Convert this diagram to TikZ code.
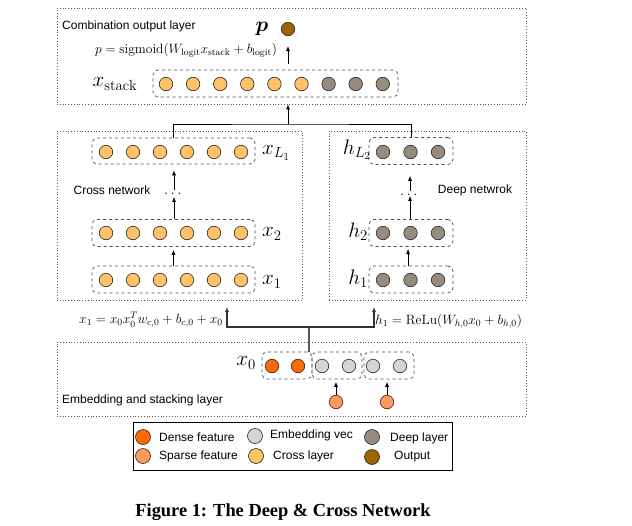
\RequirePackage{fix-cm}
\documentclass[tikz,border=0pt]{standalone}
\usepackage{amsmath}
\usepackage{fontspec}
\usepackage{bm}
\setsansfont{Liberation Sans}
\newfontfamily\capfont{Liberation Serif}
\usetikzlibrary{arrows.meta}
\definecolor{crossc}{HTML}{FFC266}
\definecolor{densec}{HTML}{FF6A00}
\definecolor{sparsec}{HTML}{FF9A5C}
\definecolor{embc}{HTML}{D4D4D4}
\definecolor{deepc}{HTML}{978B7F}
\definecolor{outc}{HTML}{9A6600}
\tikzset{
  neuron/.style={circle,draw=black!85,line width=0.6pt,minimum size=13.5pt,inner sep=0pt},
  crossn/.style={neuron,fill=crossc},
  deepn/.style={neuron,fill=deepc},
  densen/.style={neuron,fill=densec},
  sparsen/.style={neuron,fill=sparsec},
  embn/.style={neuron,fill=embc},
  outn/.style={neuron,fill=outc},
  grp/.style={draw=black!70,dashed,rounded corners=5pt,line width=0.7pt,inner sep=0pt},
  layerbox/.style={draw=black!65,dotted,line width=0.8pt,inner sep=0pt},
  arr/.style={-{Latex[length=5pt,width=4pt]},line width=0.7pt},
  conn/.style={line width=0.8pt},
  conng/.style={draw=black!65,line width=1.1pt},
  arrg/.style={draw=black!80,-{Latex[length=5pt,width=4pt]},line width=1.1pt},
  sans/.style={font=\fontsize{12}{12}\selectfont\sffamily,inner sep=0pt},
  lbl/.style={font=\fontsize{21}{21}\selectfont,inner sep=0pt},
  fml/.style={font=\fontsize{13.5}{13.5}\selectfont,inner sep=0pt},
}
\begin{document}
\begin{tikzpicture}[x=1pt,y=-1pt]
\useasboundingbox (0,0) rectangle (632,525);
% layer boxes
\node[layerbox,minimum width=469pt,minimum height=96pt] (outbox) at (291.5,56) {};
\node[layerbox,minimum width=245pt,minimum height=169pt] (crossbox) at (179.5,215.5) {};
\node[layerbox,minimum width=197pt,minimum height=169pt] (deepbox) at (427.5,215.5) {};
\node[layerbox,minimum width=469pt,minimum height=74pt] (embbox) at (291.5,379) {};
% texts of layers
\node[sans,anchor=west] (t1) at (62,26) {Combination output layer};
\node[sans] (t2) at (112,190) {Cross network};
\node[sans] (t3) at (475,190) {Deep netwrok};
\node[sans,anchor=west] (t4) at (62,400) {Embedding and stacking layer};
% output
\node[outn] (out) at (288,29) {};
\node[font=\fontsize{21}{21}\selectfont,inner sep=0pt] (plbl) at (262,29) {$\bm{p}$};
\node[fml] (pf) at (186,50) {$p=\mathrm{sigmoid}(W_{\mathrm{logit}}x_{\mathrm{stack}}+b_{\mathrm{logit}})$};
% x_stack
\node[grp,minimum width=245pt,minimum height=27pt] (xs) at (275.5,83.5) {};
\foreach \i in {0,...,5} \node[crossn] (s\i) at (166+27.1*\i,84) {};
\foreach \i in {6,7,8} \node[deepn] (s\i) at (166+27.1*\i,84) {};
\node[lbl] (xslbl) at (115,84) {$x_{\mathrm{stack}}$};
% cross network
\node[grp,minimum width=163pt,minimum height=26pt] (xL) at (173.5,151) {};
\node[grp,minimum width=163pt,minimum height=27pt] (x2) at (173.5,233) {};
\node[grp,minimum width=163pt,minimum height=27pt] (x1) at (173.5,279.5) {};
\foreach \r/\y in {xL/152,x2/233,x1/280}
  \foreach \i in {0,...,5} \node[crossn] (\r c\i) at (106+27*\i,\y) {};
\node[lbl,anchor=west] (xLlbl) at (262,153) {$x_{L_1}$};
\node[lbl,anchor=west] (x2lbl) at (262,234) {$x_2$};
\node[lbl,anchor=west] (x1lbl) at (262,282) {$x_1$};
\node[inner sep=0pt,font=\fontsize{15}{15}\selectfont] (cdots) at (174,194) {$\dots$};
% deep network
\node[grp,minimum width=84pt,minimum height=27pt] (hL) at (411,151) {};
\node[grp,minimum width=84pt,minimum height=27pt] (h2) at (411,233) {};
\node[grp,minimum width=84pt,minimum height=27pt] (h1) at (411,279.5) {};
\foreach \r/\y in {hL/152,h2/233,h1/280}
  \foreach \i in {0,1,2} \node[deepn] (\r c\i) at (383+27.5*\i,\y) {};
\node[lbl,anchor=east] (hLlbl) at (371,150) {$h_{L_2}$};
\node[lbl,anchor=east] (h2lbl) at (368,232) {$h_2$};
\node[lbl,anchor=east] (h1lbl) at (368,279) {$h_1$};
\node[inner sep=0pt,font=\fontsize{15}{15}\selectfont] (hdots) at (410,195) {$\dots$};
% embedding
\node[grp,minimum width=50pt,minimum height=27pt] (dbox) at (287,365.5) {};
\node[grp,minimum width=50pt,minimum height=27pt] (e1box) at (337,365.5) {};
\node[grp,minimum width=50pt,minimum height=27pt] (e2box) at (389,365.5) {};
\node[densen] (d0) at (272,366) {};
\node[densen] (d1) at (298,366) {};
\node[embn] (e0) at (322,366) {};
\node[embn] (e1) at (349,366) {};
\node[embn] (e2) at (373,366) {};
\node[embn] (e3) at (400,366) {};
\node[sparsen] (sp1) at (336,402) {};
\node[sparsen] (sp2) at (387,402) {};
\node[lbl,anchor=east] (x0lbl) at (256,363) {$x_0$};
% formulas
\node[fml,anchor=east] (f1) at (223,320) {$x_1=x_0x_0^Tw_{c,0}+b_{c,0}+x_0$};
\node[fml,anchor=west] (f2) at (375,321) {$h_1=\mathrm{ReLu}(W_{h,0}x_0+b_{h,0})$};
% connectors top
\coordinate (jt) at (288,124);
\draw[conn] (xL.north) |- (jt) -| (hL.north);
\draw[arr] (jt) -- (jt |- outbox.south);
\draw[arr,shorten <=6pt,shorten >=10pt] (xs.north -| out) -- (out);
% cross arrows
\draw[arr,shorten >=3pt] (x1.north) -- (x1.north |- x2.south);
\draw[arr,shorten <=0pt,shorten >=2pt] (x2.north -| cdots) -- (cdots.south);
\draw[arr,shorten <=3pt,shorten >=6pt] (cdots.north) -- (cdots |- xL.south);
% deep arrows
\draw[arr,shorten >=3pt] (h1.north -| 408,0) -- (408,246);
\draw[arr] (h2.north -| hdots) -- (hdots.south);
\draw[arr,shorten <=3pt,shorten >=11pt] (hdots.north) -- (hdots |- hL.south);
% bottom connectors
\coordinate (jb) at (309,327);
\coordinate (ca) at (227,307);
\coordinate (da) at (374,307);
\draw[conng] (jb) -- (jb |- dbox.north);
\draw[arrg] (jb) -| (ca);
\draw[arrg] (jb) -| (da);
\draw[arr,shorten >=2.5pt] (sp1) -- (sp1 |- e1box.south);
\draw[arr,shorten >=2.5pt] (sp2) -- (sp2 |- e2box.south);
% legend
\node[draw=black,line width=0.9pt,minimum width=319pt,minimum height=48pt,inner sep=0pt] (legend) at (292.5,446) {};
\node[densen,minimum size=15pt] (l1) at (143,437) {};
\node[sparsen,minimum size=15pt] (l2) at (143,456) {};
\node[embn,minimum size=15pt] (l3) at (255,436) {};
\node[crossn,minimum size=15pt] (l4) at (256,456) {};
\node[deepn,minimum size=15pt] (l5) at (372,437) {};
\node[outn,minimum size=15pt] (l6) at (372,457) {};
\node[sans,anchor=west] (lt1) at (159,437) {Dense feature};
\node[sans,anchor=west] (lt2) at (159,456) {Sparse feature};
\node[sans,anchor=west] (lt3) at (270,435) {Embedding vec};
\node[sans,anchor=west] (lt4) at (273,456) {Cross layer};
\node[sans,anchor=west] (lt5) at (390,438) {Deep layer};
\node[sans,anchor=west] (lt6) at (394,457) {Output};
% caption
\node[font=\capfont\bfseries\fontsize{18.4}{18.4}\selectfont,inner sep=0pt] (cap) at (283,512) {Figure 1: The Deep \& Cross Network};
\end{tikzpicture}
\end{document}
